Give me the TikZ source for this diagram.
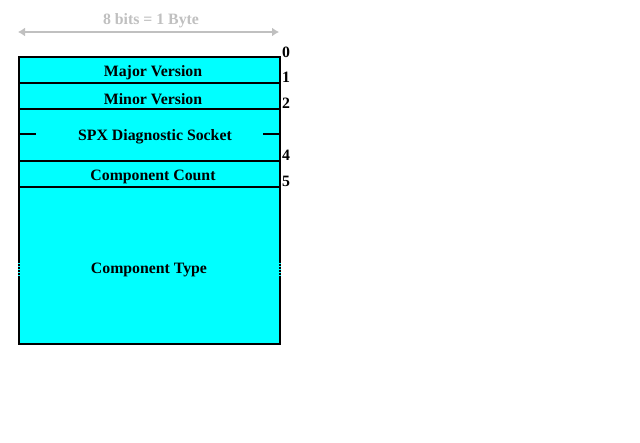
\documentclass[tikz,border=0pt]{standalone}
\usepackage{fontspec}
\setmainfont{Liberation Serif}
\usetikzlibrary{arrows.meta}
\definecolor{cy}{RGB}{0,255,255}
\definecolor{gr}{RGB}{192,192,192}
\begin{document}
\begin{tikzpicture}[x=1pt,y=-1pt,
  field/.style={draw=black,line width=2pt,fill=cy},
  lbl/.style={font=\bfseries\fontsize{15.8}{18}\selectfont,inner sep=0pt},
  off/.style={font=\bfseries\fontsize{15.8}{18}\selectfont,inner sep=0pt,anchor=west}]
\useasboundingbox[fill=white] (0,0) rectangle (640,442);
\draw[field] (19,57) rectangle (280,83);
\draw[field] (19,83) rectangle (280,109);
\draw[field] (19,109) rectangle (280,161);
\draw[field] (19,161) rectangle (280,187);
\draw[field] (19,187) rectangle (280,344);
\node[lbl] (maj) at (153,73) {Major Version};
\node[lbl] (min) at (153,99) {Minor Version};
\node[lbl] (spx) at (155,137) {SPX Diagnostic Socket};
\node[lbl] (cc) at (153,177) {Component Count};
\node[lbl] (ct) at (149,270) {Component Type};
\draw[line width=2pt] (19,134) -- (36,134);
\draw[line width=2pt] (263,134) -- (280,134);
\draw[cy,line width=2pt,dash pattern=on 1pt off 2pt] (19,263) -- (19,277);
\draw[cy,line width=2pt,dash pattern=on 1pt off 2pt] (280,263) -- (280,277);
\node[off] (o0) at (282,52) {0};
\node[off] (o1) at (282,77) {1};
\node[off] (o2) at (282,103) {2};
\node[off] (o4) at (282,155) {4};
\node[off] (o5) at (282,181) {5};
\coordinate (al) at (18,32);
\coordinate (ar) at (279,32);
\draw[gr,line width=2pt,{Latex[length=7pt,width=9pt]}-{Latex[length=7pt,width=9pt]}] (al) -- (ar);
\node[lbl,text=gr] (bits) at (151,21) {8 bits = 1 Byte};
\end{tikzpicture}
\end{document}
